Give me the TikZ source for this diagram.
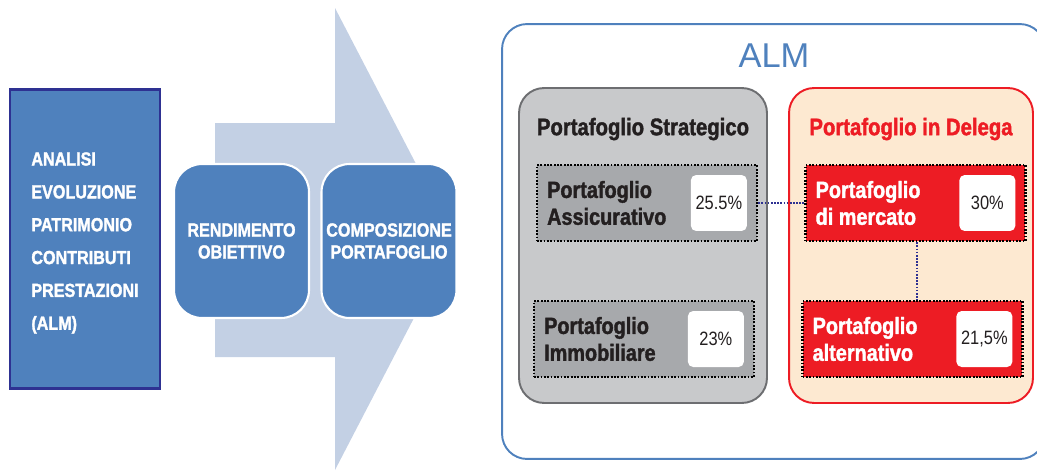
\documentclass[tikz,border=0pt]{standalone}
\usepackage{fontspec}
\setmainfont[FakeStretch=0.85, BoldFeatures={FakeBold=1.6}]{Liberation Sans}
\newfontfamily\almfont{Liberation Sans}
\usepackage{tikz}
\usetikzlibrary{shapes,arrows,positioning}
\usepackage{color}

\definecolor{almblue}{HTML}{4F81BD}
\definecolor{navy}{HTML}{2E3192}
\definecolor{arrowgrey}{HTML}{C3D0E4}
\definecolor{stratgrey}{HTML}{C8C9CB}
\definecolor{stratline}{HTML}{6D6E71}
\definecolor{boxgrey}{HTML}{A7A9AC}
\definecolor{delred}{HTML}{ED1C24}
\definecolor{peach}{HTML}{FDE9D1}
\definecolor{inkdark}{HTML}{231F20}

\tikzset{
  inbox/.style={draw=navy, line width=1.5pt, fill=almblue,
    minimum width=3cm, minimum height=5.98cm, inner sep=0},
  intxt/.style={text=white, inner sep=0, align=left,
    font=\bfseries\fontsize{10.8}{18.7}\selectfont},
  phase/.style={draw=white, line width=1.2pt, fill=almblue, text=white,
    rounded corners=0.56cm, minimum width=2.7cm, minimum height=3.08cm,
    inner sep=0, align=center, font=\bfseries\fontsize{10.8}{12.5}\selectfont},
  group/.style={line width=1.1pt, rounded corners=0.5cm,
    minimum height=6.3cm, inner sep=0},
  pbox/.style={draw=black, line width=1.4pt, dash pattern=on 1pt off 0.9pt,
    minimum width=4.4cm, minimum height=1.52cm, inner sep=0},
  lbl/.style={inner sep=0, align=left, font=\bfseries\fontsize{13.3}{15.3}\selectfont},
  val/.style={fill=white, rounded corners=3pt, minimum width=1.12cm,
    minimum height=1.12cm, inner sep=0, text=inkdark, font=\fontsize{11}{13}\selectfont},
  head/.style={inner sep=0, font=\bfseries\fontsize{13.6}{15}\selectfont},
  link/.style={navy, line width=1.2pt, dash pattern=on 1pt off 0.8pt}
}

\begin{document}
\begin{tikzpicture}[x=0.02cm, y=-0.02cm]
                   % Sizes
                   \useasboundingbox (0,0) rectangle (1037,470);

                   % arrow
                   \fill[arrowgrey] (215,123) -- (335,123) -- (335,8) -- (455,239)
                     -- (335,470) -- (335,357) -- (215,357) -- cycle;

                   % left side
                   \node[inbox] (analisi) at (85,239) {};
                   \node[intxt] (analisi-txt) at (85,243)
                     {ANALISI\\EVOLUZIONE\\PATRIMONIO\\CONTRIBUTI\\PRESTAZIONI\\(ALM)};
                   \node[phase] (rendimento) at (241.5,241) {RENDIMENTO\\OBIETTIVO};
                   \node[phase] (composizione) at (389,241) {COMPOSIZIONE\\PORTAFOGLIO};

                   % ALM groups
                   \node[group, draw=almblue, minimum width=10.86cm, minimum height=8.7cm]
                     (alm) at (773.5,241.5) {};
                   \node[text=almblue, inner sep=0, font=\almfont\fontsize{19.6}{21}\selectfont]
                     (alm-title) at (774,56) {ALM};
                   \node[group, draw=stratline, fill=stratgrey, minimum width=4.96cm]
                     (strat) at (643,245.5) {};
                   \node[group, draw=delred, fill=peach, minimum width=4.88cm]
                     (deleg) at (911,245.5) {};
                   \node[head, text=inkdark] (strat-head) at ([yshift=-0.84cm]strat.north)
                     {Portafoglio Strategico};
                   \node[head, text=delred] (deleg-head) at ([yshift=-0.84cm]deleg.north)
                     {Portafoglio in Delega};

                   % portfolios
                   \node[pbox, fill=boxgrey] (assic) at (647,203) {};
                   \node[pbox, fill=boxgrey] (immob) at (644,339) {};
                   \node[pbox, fill=delred] (mercato) at (915.5,203) {};
                   \node[pbox, fill=delred] (altern) at (912.5,339) {};

                   \node[lbl, text=inkdark, right=0.22cm of assic.west] (assic-txt)
                     {Portafoglio\\Assicurativo};
                   \node[lbl, text=inkdark, right=0.22cm of immob.west] (immob-txt)
                     {Portafoglio\\Immobiliare};
                   \node[lbl, text=white, right=0.22cm of mercato.west] (mercato-txt)
                     {Portafoglio\\di mercato};
                   \node[lbl, text=white, right=0.22cm of altern.west] (altern-txt)
                     {Portafoglio\\alternativo};

                   \node[val, left=0.22cm of assic.east] (assic-val) {25.5\%};
                   \node[val, left=0.22cm of immob.east] (immob-val) {23\%};
                   \node[val, left=0.22cm of mercato.east] (mercato-val) {30\%};
                   \node[val, left=0.22cm of altern.east] (altern-val) {21,5\%};

                   % links
                   \draw[link] (assic.east) -- (mercato.west);
                   \draw[link] ([xshift=0.03cm]mercato.south) -- ([xshift=0.03cm]mercato.south |- altern.north);
\end{tikzpicture}
\end{document}
